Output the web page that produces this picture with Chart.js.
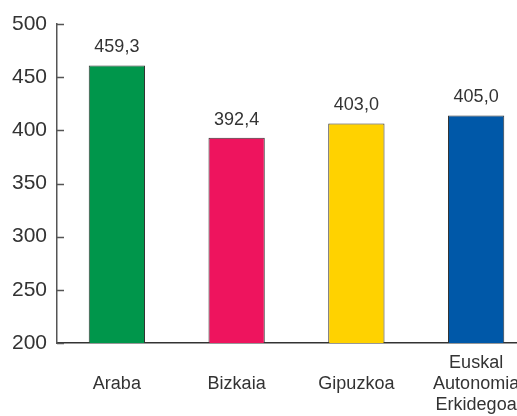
<!DOCTYPE html>
<html>
<head>
<meta charset="utf-8">
<script src="https://cdn.jsdelivr.net/npm/chart.js@4.4.1/dist/chart.umd.min.js"></script>
<style>
  html, body { margin: 0; padding: 0; background: #fff; overflow: hidden; }
  #wrap { width: 540px; height: 416px; }
</style>
</head>
<body>
<div id="wrap"><canvas id="grafico"></canvas></div>
<script>
const lurraldeak = ['Araba', 'Bizkaia', 'Gipuzkoa', ['Euskal', 'Autonomia', 'Erkidegoa']];
const balioak = [461, 393, 406.5, 414];              // barren altuera, iruditik irakurria
const etiketak = ['459,3', '392,4', '403,0', '405,0']; // barren gainean idatzitakoa
const koloreak = ['#00964b', '#ee145e', '#ffd200', '#0058a8'];
const yTicks = [200, 250, 300, 350, 400, 450, 500];

const letra = '"Liberation Sans", Arial, sans-serif';

// balioak barren gainean + y ardatzeko marka txikiak barrurantz
const etiketaPlugin = {
  id: 'etiketak',
  afterDatasetsDraw(chart) {
    const ctx = chart.ctx;
    const meta = chart.getDatasetMeta(0);
    ctx.save();
    ctx.font = '18px ' + letra;
    ctx.fillStyle = '#333';
    ctx.textAlign = 'center';
    ctx.textBaseline = 'alphabetic';
    meta.data.forEach((bar, i) => {
      ctx.fillText(etiketak[i], bar.x, bar.y - 13);
    });
    ctx.restore();
  },
  afterDraw(chart) {
    const ctx = chart.ctx;
    const y = chart.scales.y;
    const x0 = chart.chartArea.left;
    ctx.save();
    ctx.strokeStyle = '#555';
    ctx.lineWidth = 1.5;
    ctx.beginPath();
    y.ticks.forEach((t) => {
      const py = Math.round(y.getPixelForValue(t.value)) + 0.5;
      ctx.moveTo(x0, py);
      ctx.lineTo(x0 + 7, py);
    });
    ctx.stroke();
    ctx.restore();
  }
};

new Chart(document.getElementById('grafico'), {
  type: 'bar',
  data: {
    labels: lurraldeak,
    datasets: [{
      data: balioak,
      backgroundColor: koloreak,
      borderColor: '#333',
      borderWidth: 1,
      barPercentage: 0.47,
      categoryPercentage: 1
    }]
  },
  options: {
    responsive: true,
    maintainAspectRatio: false,
    animation: false,
    layout: { padding: { top: 24, right: 4, left: 0, bottom: 0 } },
    plugins: {
      legend: { display: false },
      tooltip: { enabled: false }
    },
    scales: {
      x: {
        grid: { display: false, drawTicks: false },
        border: { display: true, color: '#333', width: 1.5 },
        ticks: {
          color: '#333',
          font: { family: letra, size: 18, lineHeight: 1.17 },
          padding: 20,
          maxRotation: 0,
          autoSkip: false,
          crossAlign: 'center'
        },
        afterFit: (scale) => {
          scale.height = 73;
          scale.paddingLeft = 0;
          scale.paddingRight = 0;
        }
      },
      y: {
        min: 200,
        max: 500,
        grid: { display: false, drawTicks: false },
        border: { display: true, color: '#555', width: 1.5 },
        afterBuildTicks: (scale) => {
          scale.ticks = yTicks.map((v) => ({ value: v }));
        },
        ticks: {
          color: '#333',
          font: { family: letra, size: 21 },
          padding: 10
        },
        afterFit: (scale) => {
          scale.width = 57;
        }
      }
    }
  },
  plugins: [etiketaPlugin]
});
</script>
</body>
</html>
